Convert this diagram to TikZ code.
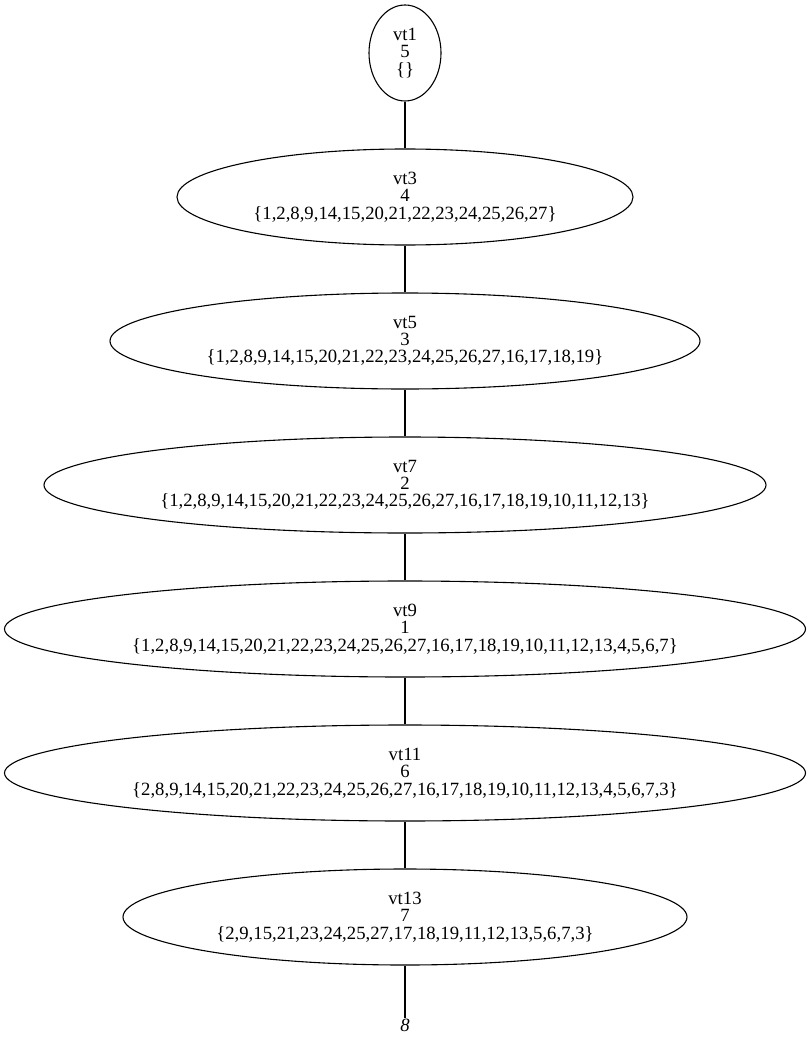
\documentclass[tikz,border=0pt]{standalone}
\usepackage{fontspec}
\setmainfont{Liberation Serif}
\usetikzlibrary{shapes.geometric}
\begin{document}
\begin{tikzpicture}[x=1pt,y=-1pt,
  tnode/.style={ellipse,draw,line width=1.1pt,inner sep=0pt,align=center,
    font=\fontsize{18.7}{17.3}\selectfont,minimum height=96pt},
  leaf/.style={inner sep=1pt,font=\fontsize{18.7}{17.3}\selectfont\itshape},
  link/.style={line width=1.1pt}]
\useasboundingbox (0,0) rectangle (811,1043);
\node[tnode,minimum width=72pt] (vt1) at (405,53) {vt1\\5\\\{\}};
\node[tnode,minimum width=456pt] (vt3) at (405,197)
  {vt3\\4\\\{1,2,8,9,14,15,20,21,22,23,24,25,26,27\}};
\node[tnode,minimum width=590pt] (vt5) at (405,341)
  {vt5\\3\\\{1,2,8,9,14,15,20,21,22,23,24,25,26,27,16,17,18,19\}};
\node[tnode,minimum width=722pt] (vt7) at (405,485)
  {vt7\\2\\\{1,2,8,9,14,15,20,21,22,23,24,25,26,27,16,17,18,19,10,11,12,13\}};
\node[tnode,minimum width=801pt] (vt9) at (405,629)
  {vt9\\1\\\{1,2,8,9,14,15,20,21,22,23,24,25,26,27,16,17,18,19,10,11,12,13,4,5,6,7\}};
\node[tnode,minimum width=801pt] (vt11) at (405,773)
  {vt11\\6\\\{2,8,9,14,15,20,21,22,23,24,25,26,27,16,17,18,19,10,11,12,13,4,5,6,7,3\}};
\node[tnode,minimum width=564pt] (vt13) at (405,917)
  {vt13\\7\\\{2,9,15,21,23,24,25,27,17,18,19,11,12,13,5,6,7,3\}};
\node[leaf] (n8) at (405,1025) {8};
\draw[link] (vt1) -- (vt3);
\draw[link] (vt3) -- (vt5);
\draw[link] (vt5) -- (vt7);
\draw[link] (vt7) -- (vt9);
\draw[link] (vt9) -- (vt11);
\draw[link] (vt11) -- (vt13);
\draw[link] (vt13) -- (n8);
\end{tikzpicture}
\end{document}
